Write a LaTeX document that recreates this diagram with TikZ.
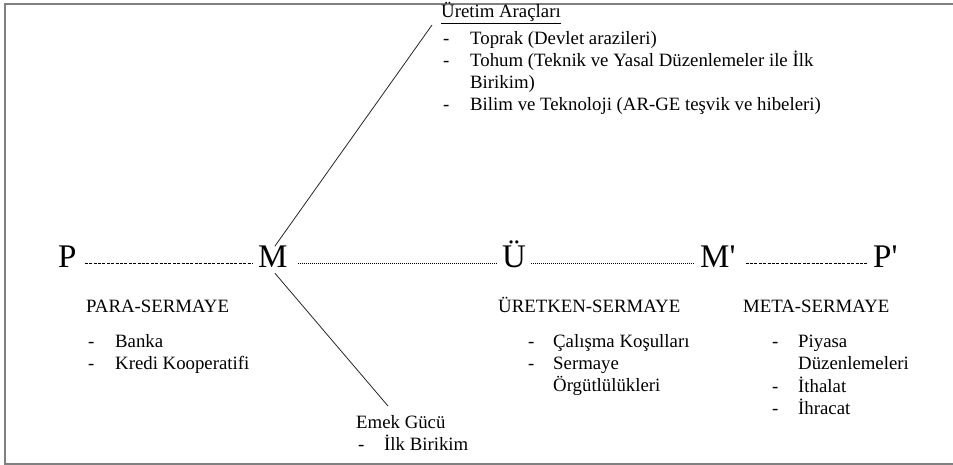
\documentclass[tikz,border=0pt]{standalone}
\usepackage{fontspec}
\setmainfont{Liberation Serif}[Ligatures=TeXOff]
\usetikzlibrary{calc}
\tikzset{
  txt/.style={anchor=base west, inner sep=0pt, font=\fontsize{18.8}{22}\selectfont},
  big/.style={anchor=base west, inner sep=0pt, font=\fontsize{33}{36}\selectfont},
  dashln/.style={line width=0.6pt, dash pattern=on 3pt off 1.4pt},
  dotln/.style={line width=0.9pt, dash pattern=on 0.9pt off 1.1pt},
  diag/.style={line width=0.8pt, black!85},
  frame/.style={line width=1.4pt, black!50}
}
\begin{document}
\begin{tikzpicture}[x=1pt,y=-1pt]
\useasboundingbox (0,0) rectangle (953,465);
\draw[frame] (953,4) -- (5,4) -- (5,464) -- (953,464);

% main chain
\node[big] (P) at (58,267) {P};
\node[big] (M) at (258,267) {M};
\node[big] (U) at (502,267) {Ü};
\node[big] (M2) at (700,267) {M'};
\node[big] (P2) at (873,267) {P'};

\draw[dashln] ([xshift=8pt,yshift=4pt]P.base east) -- ([xshift=-5pt,yshift=4pt]M.base west);
\draw[dotln] ([xshift=10pt,yshift=4pt]M.base east) -- ([xshift=-5pt,yshift=4pt]U.base west);
\draw[dotln] ([xshift=5pt,yshift=4pt]U.base east) -- ([xshift=-6pt,yshift=4pt]M2.base west);
\draw[dashln] ([xshift=10pt,yshift=4pt]M2.base east) -- ([xshift=-5pt,yshift=4pt]P2.base west);

% top list
\node[txt] (ua) at (441,18) {\underline{Üretim Araçları}};
\node[txt] (d1) at (443,45) {-};
\node[txt] (t1) at (470,45) {Toprak (Devlet arazileri)};
\node[txt] (d2) at (443,67) {-};
\node[txt] (t2) at (470,67) {Tohum (Teknik ve Yasal Düzenlemeler ile İlk};
\node[txt] (t2b) at (470,89) {Birikim)};
\node[txt] (d3) at (443,111) {-};
\node[txt] (t3) at (470,111) {Bilim ve Teknoloji (AR-GE teşvik ve hibeleri)};

\coordinate (uend) at (432,25);
\draw[diag] ([xshift=2pt,yshift=-1pt]M.north) -- (uend);

% para-sermaye
\node[txt] (ps) at (86,312) {PARA-SERMAYE};
\node[txt] (pd1) at (88,347) {-};
\node[txt] (pt1) at (115,347) {Banka};
\node[txt] (pd2) at (88,369) {-};
\node[txt] (pt2) at (115,369) {Kredi Kooperatifi};

% uretken-sermaye
\node[txt] (us) at (498,312) {ÜRETKEN-SERMAYE};
\node[txt] (ud1) at (528,347) {-};
\node[txt] (ut1) at (553,347) {Çalışma Koşulları};
\node[txt] (ud2) at (528,369) {-};
\node[txt] (ut2) at (553,369) {Sermaye};
\node[txt] (ut2b) at (553,391) {Örgütlülükleri};

% meta-sermaye
\node[txt] (ms) at (743,312) {META-SERMAYE};
\node[txt] (md1) at (772,347) {-};
\node[txt] (mt1) at (798,347) {Piyasa};
\node[txt] (mt1b) at (798,369) {Düzenlemeleri};
\node[txt] (md2) at (772,392) {-};
\node[txt] (mt2) at (798,392) {İthalat};
\node[txt] (md3) at (772,414) {-};
\node[txt] (mt3) at (798,414) {İhracat};

% emek gucu
\node[txt] (eg) at (356,428) {Emek Gücü};
\node[txt] (ed1) at (358,450) {-};
\node[txt] (et1) at (384,450) {İlk Birikim};

\coordinate (lend) at (388,406);
\draw[diag] ([xshift=2pt,yshift=-6pt]M.south) -- (lend);
\end{tikzpicture}
\end{document}
